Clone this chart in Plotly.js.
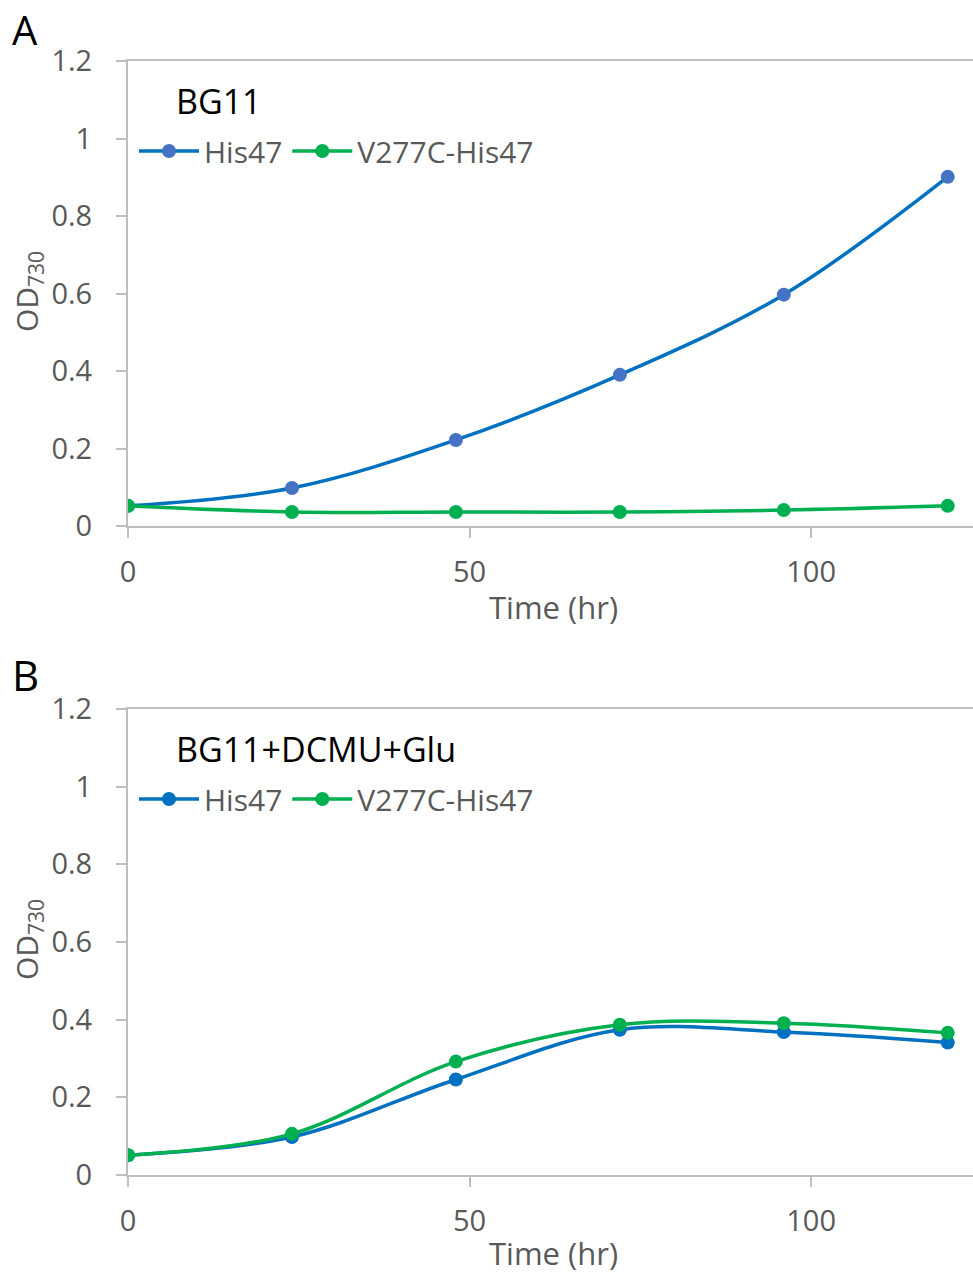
<!DOCTYPE html>
<html>
<head>
<meta charset="utf-8">
<script src="https://cdn.plot.ly/plotly-3.0.1.min.js"></script>
<style>html,body{margin:0;padding:0;background:#fff;}#chart{width:973px;height:1274px;}</style>
</head>
<body>
<div id="chart"></div>
<script>
const timeHr = [0, 24, 48, 72, 96, 120];
const seriesNames = ["His47", "V277C-His47"];
const panelA_His47 = [0.052, 0.098, 0.222, 0.390, 0.597, 0.901];
const panelA_V277C = [0.052, 0.036, 0.036, 0.036, 0.041, 0.052];
const panelB_His47 = [0.051, 0.098, 0.246, 0.374, 0.368, 0.341];
const panelB_V277C = [0.051, 0.106, 0.292, 0.387, 0.391, 0.366];
const panelLabels = ["A", "B"];
const panelTitles = ["BG11", "BG11+DCMU+Glu"];
const xTitle = "Time (hr)";
const yTitle = "OD<sub>730</sub>";
const yTicks = [0, 0.2, 0.4, 0.6, 0.8, 1, 1.2];
const yTickText = ["0", "0.2", "0.4", "0.6", "0.8", "1", "1.2"];
const xTicks = [0, 50, 100];

const FONT = "Open Sans, Liberation Sans, sans-serif";
const GREY = "#595959";
const AXIS = "#BFBFBF";
const BLUE = "#0070C0";
const BLUE_M = "#4472C4";
const GREEN = "#00B050";
const H = 1274, W = 973;

function tr(x, y, name, lineCol, markCol, xa, ya, leg) {
  return {x: x, y: y, name: name, type: "scatter", mode: "lines+markers",
    line: {color: lineCol, width: 3.5, shape: "spline", smoothing: 1},
    marker: {color: markCol, size: 14},
    xaxis: xa, yaxis: ya, legend: leg, showlegend: true};
}
const data = [
  tr(timeHr, panelA_His47, seriesNames[0], BLUE, BLUE_M, "x", "y", "legend"),
  tr(timeHr, panelA_V277C, seriesNames[1], GREEN, GREEN, "x", "y", "legend"),
  tr(timeHr, panelB_His47, seriesNames[0], BLUE, BLUE, "x2", "y2", "legend2"),
  tr(timeHr, panelB_V277C, seriesNames[1], GREEN, GREEN, "x2", "y2", "legend2")
];

function xax(anchor) {
  return {domain: [128 / W, 1], range: [0, 123.7], anchor: anchor,
    tickvals: xTicks, ticks: "outside", ticklen: 10, tickcolor: AXIS, tickwidth: 2,
    showline: true, linecolor: AXIS, linewidth: 2, mirror: true, showgrid: false, zeroline: false,
    tickfont: {family: FONT, size: 29, color: GREY}, ticklabelstandoff: 9, automargin: false};
}
function yax(anchor, dom) {
  return {domain: dom, range: [0, 1.2], anchor: anchor,
    tickvals: yTicks, ticktext: yTickText, ticks: "outside", ticklen: 10, tickcolor: AXIS, tickwidth: 2,
    showline: true, linecolor: AXIS, linewidth: 2, showgrid: false, zeroline: false,
    tickfont: {family: FONT, size: 29, color: GREY}, ticklabelstandoff: 18, automargin: false};
}
function leg(ycenter) {
  return {x: 134 / W, y: 1 - ycenter / H, xanchor: "left", yanchor: "middle",
    orientation: "h", bgcolor: "rgba(0,0,0,0)", itemwidth: 60,
    font: {family: FONT, size: 30, color: GREY}, tracegroupgap: 0, itemclick: false};
}
const ann = [];
function addText(text, xp, yp, size, color, xanchor, angle, yanchor) {
  ann.push({text: text, x: xp / W, y: 1 - yp / H, xref: "paper", yref: "paper",
    xanchor: xanchor, yanchor: yanchor || "middle", showarrow: false, textangle: angle || 0,
    font: {family: FONT, size: size, color: color}});
}
addText(panelLabels[0], 10, 0, 40, "#000", "left", 0, "top");
addText(panelLabels[1], 10, 674, 42, "#000", "left");
addText(panelTitles[0], 174, 101, 34, "#000", "left");
addText(panelTitles[1], 174, 749, 34, "#000", "left");
addText(xTitle, 553, 607, 31, GREY, "center");
addText(xTitle, 553, 1253, 31, GREY, "center");
addText(yTitle, 28, 292, 30, GREY, "center", -90);
addText(yTitle, 28, 940, 30, GREY, "center", -90);

const layout = {
  width: W, height: H, margin: {l: 0, r: 0, t: 0, b: 0},
  paper_bgcolor: "#fff", plot_bgcolor: "#fff",
  xaxis: xax("y"), yaxis: yax("x", [1 - 526 / H, 1 - 61 / H]),
  xaxis2: xax("y2"), yaxis2: yax("x2", [1 - 1175 / H, 1 - 709 / H]),
  legend: leg(151), legend2: leg(799),
  annotations: ann, showlegend: true
};
Plotly.newPlot("chart", data, layout, {displayModeBar: false, staticPlot: true});
</script>
</body>
</html>
